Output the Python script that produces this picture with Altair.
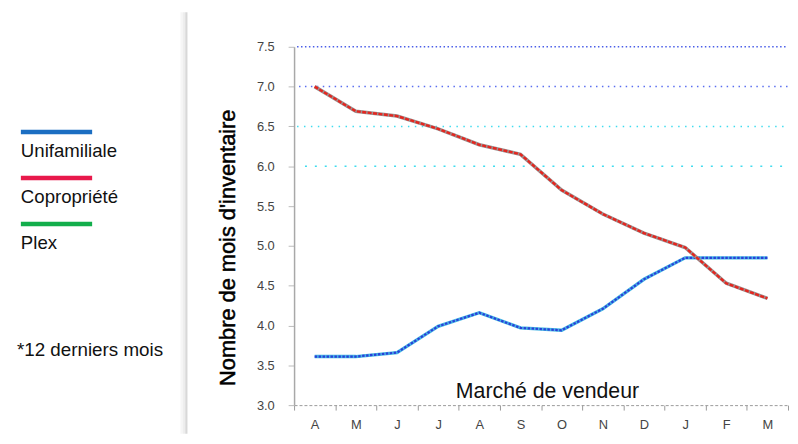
import altair as alt
import pandas as pd

months = ["A", "M", "J", "J", "A", "S", "O", "N", "D", "J", "F", "M"]
unifamiliale = [3.61, 3.61, 3.66, 3.99, 4.16, 3.97, 3.94, 4.21, 4.58, 4.85, 4.85, 4.85]
copropriete = [7.00, 6.69, 6.63, 6.47, 6.27, 6.15, 5.70, 5.40, 5.16, 4.98, 4.53, 4.34]
series_names = ["Unifamiliale", "Copropriété", "Plex"]
legend_colors = ["#1b6ec2", "#e8194b", "#12ae4b"]
y_ticks = [3.0, 3.5, 4.0, 4.5, 5.0, 5.5, 6.0, 6.5, 7.0, 7.5]
grid_values = [7.5, 7.0, 6.5, 6.0]
note = "*12 derniers mois"
zone_label = "Marché de vendeur"
y_title = "Nombre de mois d'inventaire"

idx = list(range(len(months)))
df = pd.DataFrame({
    "idx": idx + idx,
    "serie": ["Unifamiliale"] * len(idx) + ["Copropriété"] * len(idx),
    "value": unifamiliale + copropriete,
})

W, H = 499, 362
OX, OY = 297, 45  # page position of plot origin
FONT = "Liberation Sans"

label_expr = "[" + ",".join(f"'{m}'" for m in months) + "][datum.value]"

x_enc = alt.X(
    "idx:O",
    scale=alt.Scale(paddingInner=0, paddingOuter=0),
    axis=alt.Axis(
        title=None, labelExpr=label_expr, tickBand="extent", labelAngle=0,
        domainDash=[3, 2], domainColor="#9a9a9a", domainWidth=1,
        tickColor="#9a9a9a", tickSize=5, labelFontSize=13, labelColor="#444",
        labelPadding=9, labelFont=FONT,
    ),
)
y_enc = alt.Y(
    "value:Q",
    scale=alt.Scale(domain=[3.0, 7.5], nice=False, zero=False),
    axis=alt.Axis(
        title=None, values=y_ticks, format=".1f", grid=False,
        domainColor="#a8a8a8", domainWidth=1.5, tickColor="#bbbbbb", tickSize=6,
        labelPadding=14, labelFontSize=13, labelColor="#444", labelFont=FONT,
    ),
)

base = alt.Chart(df)
uni_base = base.transform_filter(alt.datum.serie == "Unifamiliale").mark_line(
    color="#46b4e4", strokeWidth=3.4).encode(x=x_enc, y=y_enc)
uni_top = base.transform_filter(alt.datum.serie == "Unifamiliale").mark_line(
    color="#2a3fd8", strokeWidth=2.2, strokeDash=[2.5, 1.5]).encode(x=x_enc, y=y_enc)
cop_base = base.transform_filter(alt.datum.serie == "Copropriété").mark_line(
    color="#9c9090", strokeWidth=3.6).encode(x=x_enc, y=y_enc)
cop_top = base.transform_filter(alt.datum.serie == "Copropriété").mark_line(
    color="#e5261f", strokeWidth=2.4, strokeDash=[4, 1.5]).encode(x=x_enc, y=y_enc)

one = pd.DataFrame({"k": [0]})

grid_styles = {
    7.5: ("#4a5ee8", [1.5, 2.5], 3),
    7.0: ("#5a6ef0", [1.5, 4.5], 5),
    6.5: ("#3fdcef", [1.5, 5.5], 3),
    6.0: ("#3fdcef", [2, 8], 11),
}
grid_layers = []
for g in grid_values:
    col, dash, xs = grid_styles[g]
    grid_layers.append(
        alt.Chart(pd.DataFrame({"value": [g]})).mark_rule(
            color=col, strokeDash=dash, strokeWidth=1.5
        ).encode(y=y_enc, x=alt.value(xs), x2=alt.value(W))
    )

# divider
divider = []
for dx, col in [(183, "#f6f6f6"), (185, "#eeeeee"), (187, "#e2e2e2"), (188.5, "#d8d8d8")]:
    divider.append(
        alt.Chart(one).mark_rule(color=col, strokeWidth=1.6).encode(
            x=alt.value(dx - OX), y=alt.value(10 - OY), y2=alt.value(H + 29)
        )
    )

# custom legend
legend_layers = []
for i, (name, col) in enumerate(zip(series_names, legend_colors)):
    bar_y = 131 + i * 46.5
    legend_layers.append(
        alt.Chart(one).mark_rule(color=col, strokeWidth=4.5).encode(
            x=alt.value(21 - OX), x2=alt.value(93 - OX), y=alt.value(bar_y - OY)
        )
    )
    legend_layers.append(
        alt.Chart(one).mark_text(
            text=name, align="left", baseline="middle", fontSize=18.8, font=FONT, color="#111"
        ).encode(x=alt.value(21 - OX), y=alt.value(bar_y + 19 - OY))
    )

note_text = alt.Chart(one).mark_text(
    text=note, align="left", baseline="middle", fontSize=19, font=FONT, color="#111"
).encode(x=alt.value(17 - OX), y=alt.value(351 - OY))

zone_text = alt.Chart(one).mark_text(
    text=zone_label, align="center", baseline="alphabetic", fontSize=21.5, font=FONT, color="#111"
).encode(x=alt.value(553 - OX), y=alt.value(400 - OY))

ytitle_text = alt.Chart(one).mark_text(
    text=y_title, align="center", baseline="middle", angle=270, fontSize=22,
    font=FONT, color="#000", stroke="#000", strokeWidth=0.5,
).encode(x=alt.value(230 - OX), y=alt.value(248 - OY))

chart = alt.layer(
    uni_base, *grid_layers, uni_top, cop_base, cop_top,
    *divider, *legend_layers, note_text, zone_text, ytitle_text,
).properties(
    width=W, height=H,
    padding={"left": 289, "top": 37, "right": 2, "bottom": 29},
    autosize="none",
    background="white",
).configure_view(stroke=None)

chart.save("out.html", embed_options={"renderer": "svg", "actions": False})
